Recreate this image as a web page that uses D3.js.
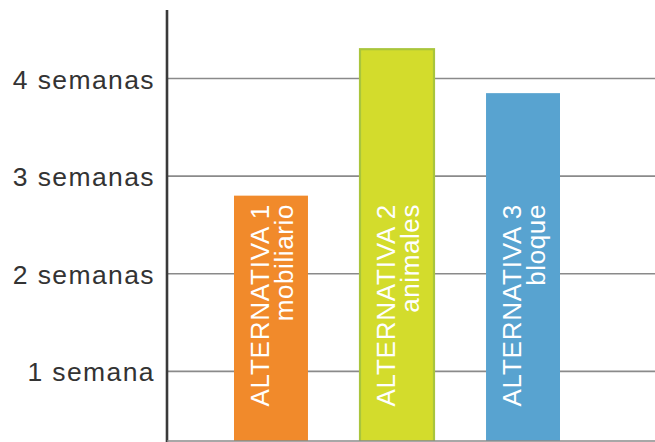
<!DOCTYPE html>
<html>
<head>
<meta charset="utf-8">
<script src="https://cdn.jsdelivr.net/npm/d3@7"></script>
<style>
  html, body { margin: 0; padding: 0; background: #fff; }
  svg { display: block; font-family: "Liberation Sans", Arial, Helvetica, sans-serif; }
</style>
</head>
<body>
<svg id="chart" width="655" height="442"></svg>
<script>
// Duration of each alternative, in weeks
const categories = ["ALTERNATIVA 1", "ALTERNATIVA 2", "ALTERNATIVA 3"];
const subtitles  = ["mobiliario", "animales", "bloque"];
const weeks      = [2.8, 4.3, 3.85];
const tickValues = [1, 2, 3, 4];
const tickLabels = ["1 semana", "2 semanas", "3 semanas", "4 semanas"];
const fills      = ["#f18a2b", "#d3dc2c", "#58a3d0"];
const strokes    = ["none", "#a9c53c", "none"];

const W = 655, H = 442;
const axisX = 167, plotBottom = 441, plotTop = 10;

const svg = d3.select("#chart");

const y = d3.scaleLinear().domain([0, 4]).range([469, 78.5]);
const x = d3.scaleBand().domain(categories).range([234, 560]).paddingInner(0.413).paddingOuter(0);

// horizontal gridlines
svg.append("g")
  .selectAll("line")
  .data(tickValues)
  .join("line")
  .attr("x1", axisX).attr("x2", W)
  .attr("y1", d => y(d)).attr("y2", d => y(d))
  .attr("stroke", "#8a8a8a").attr("stroke-width", 1.6);

// tick labels
const yAxis = d3.axisLeft(y)
  .tickValues(tickValues)
  .tickSize(0)
  .tickPadding(12)
  .tickFormat((d, i) => tickLabels[i]);
const gAxis = svg.append("g").attr("transform", `translate(${axisX},0)`).call(yAxis);
gAxis.select(".domain").remove();
gAxis.selectAll("text")
  .attr("fill", "#333")
  .style("font-size", "26.5px")
  .style("letter-spacing", "1.4px")
  .attr("dy", "0.36em");

// bars, clipped at the baseline
svg.append("clipPath").attr("id", "plotClip")
  .append("rect").attr("x", 0).attr("y", 0).attr("width", W).attr("height", plotBottom);

const bars = svg.append("g").attr("clip-path", "url(#plotClip)");
bars.selectAll("rect")
  .data(weeks)
  .join("rect")
  .attr("x", (d, i) => x(categories[i]))
  .attr("y", d => y(d))
  .attr("width", x.bandwidth())
  .attr("height", d => y(0) - y(d))
  .attr("fill", (d, i) => fills[i])
  .attr("stroke", (d, i) => strokes[i])
  .attr("stroke-width", 2.2);

// rotated labels inside the bars
const labelTop = 204;
const labels = svg.append("g")
  .selectAll("g")
  .data(categories)
  .join("g")
  .attr("transform", d => `translate(${x(d) + x.bandwidth() / 2},${labelTop}) rotate(-90)`);
labels.append("text")
  .attr("text-anchor", "end")
  .attr("y", -2)
  .attr("fill", "#fff")
  .style("font-size", "26px")
  .style("letter-spacing", "0.8px")
  .text(d => d);
labels.append("text")
  .attr("text-anchor", "end")
  .attr("y", 22)
  .attr("fill", "#fff")
  .style("font-size", "26px")
  .style("letter-spacing", "0.6px")
  .text((d, i) => subtitles[i]);

// vertical axis line and baseline
svg.append("line")
  .attr("x1", axisX).attr("x2", axisX)
  .attr("y1", plotTop).attr("y2", plotBottom + 1)
  .attr("stroke", "#3a3a3a").attr("stroke-width", 2.6);
svg.append("line")
  .attr("x1", axisX).attr("x2", W)
  .attr("y1", plotBottom).attr("y2", plotBottom)
  .attr("stroke", "#8a8a8a").attr("stroke-width", 1.6);
</script>
</body>
</html>
